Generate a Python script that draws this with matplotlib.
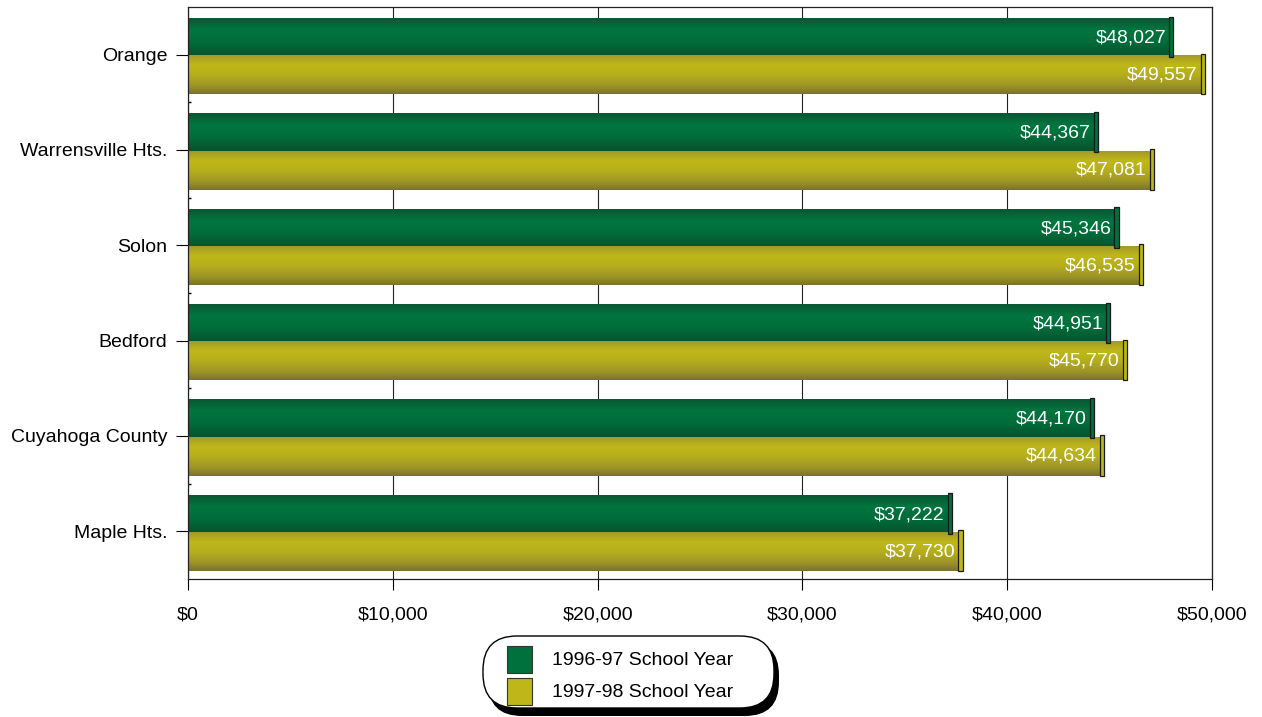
import numpy as np
import matplotlib.pyplot as plt
from matplotlib.patches import Rectangle, FancyBboxPatch
from matplotlib.colors import LinearSegmentedColormap

plt.rcParams['font.family'] = ['Liberation Sans', 'DejaVu Sans']

# Average teacher salary by district
districts = ['Orange', 'Warrensville Hts.', 'Solon', 'Bedford', 'Cuyahoga County', 'Maple Hts.']
year_9697 = [48027, 44367, 45346, 44951, 44170, 37222]
year_9798 = [49557, 47081, 46535, 45770, 44634, 37730]
series_names = ['1996-97 School Year', '1997-98 School Year']

green = '#00703c'
olive = '#bdb71a'

W, H = 1262, 717
fig = plt.figure(figsize=(W / 100, H / 100), dpi=100)
ax = fig.add_axes([188 / W, 1 - 579 / H, 1024 / W, 572 / H])

ax.set_xlim(0, 50000)
ax.set_ylim(len(districts) - 0.5, -0.5)

# cylinder-style shading, top to bottom
green_cmap = LinearSegmentedColormap.from_list('g', [
    (0.0, '#0b5733'), (0.3, '#00763f'), (0.6, '#006d3a'), (1.0, '#07512e')])
olive_cmap = LinearSegmentedColormap.from_list('o', [
    (0.0, '#a39b26'), (0.25, '#bfb819'), (0.5, '#b6af1d'), (0.8, '#9c9327'), (1.0, '#7b7230')])
cmaps = [green_cmap, olive_cmap]
colors = [green, olive]
grad = np.linspace(0, 1, 64).reshape(-1, 1)

h = 0.40
offsets = [-0.175, 0.215]
for s, values in enumerate([year_9697, year_9798]):
    for i, v in enumerate(values):
        y0 = i + offsets[s] - h / 2
        y1 = i + offsets[s] + h / 2
        ax.imshow(grad, cmap=cmaps[s], aspect='auto', extent=(0, v, y1, y0),
                  interpolation='bilinear', zorder=2)
        # end cap
        ax.add_patch(Rectangle((v - 110, y0 - 0.025), 200, h + 0.025,
                               facecolor=colors[s], edgecolor='#1a1a1a',
                               linewidth=0.9, zorder=3))
        ax.annotate(f'${v:,}', xy=(v, i + offsets[s]), xytext=(-4, 0),
                    textcoords='offset points', ha='right', va='center',
                    color='white', fontsize=14, zorder=4)

ax.set_xticks(np.arange(0, 50001, 10000))
ax.set_xticklabels([f'${x:,}' for x in range(0, 50001, 10000)], fontsize=14)
ax.set_yticks(range(len(districts)))
ax.set_yticklabels(districts, fontsize=14)
ax.set_yticks(np.arange(0.5, len(districts) - 0.5, 1), minor=True)
ax.tick_params(axis='y', which='major', length=9, width=0.8, pad=6)
ax.tick_params(axis='y', which='minor', length=2, width=1, direction='in')
ax.tick_params(axis='x', length=8, width=0.8, pad=12)
ax.xaxis.grid(True, color='#222222', linewidth=0.8, zorder=0)
ax.set_axisbelow(True)
for sp in ax.spines.values():
    sp.set_linewidth(0.9)
    sp.set_color('#222222')

# rounded legend box with drop shadow, laid out in pixels
lax = fig.add_axes([480 / W, 0, 310 / W, 84 / H])
lax.set_xlim(480, 790)
lax.set_ylim(717, 633)
lax.axis('off')
r = 34
lax.add_patch(FancyBboxPatch((488, 641), 291, 75, boxstyle=f'round,pad=0,rounding_size={r}',
                             facecolor='black', edgecolor='none'))
lax.add_patch(FancyBboxPatch((483, 636), 291, 72, boxstyle=f'round,pad=0,rounding_size={r}',
                             facecolor='white', edgecolor='black', linewidth=1.0))
for k, (name, c) in enumerate(zip(series_names, colors)):
    top = 646 + k * 32
    lax.add_patch(Rectangle((507, top), 25, 27, facecolor=c,
                            edgecolor='#333333', linewidth=0.8))
    lax.text(552, top + 14, name, fontsize=14, va='center', ha='left')

fig.savefig('out.png', dpi=100)
